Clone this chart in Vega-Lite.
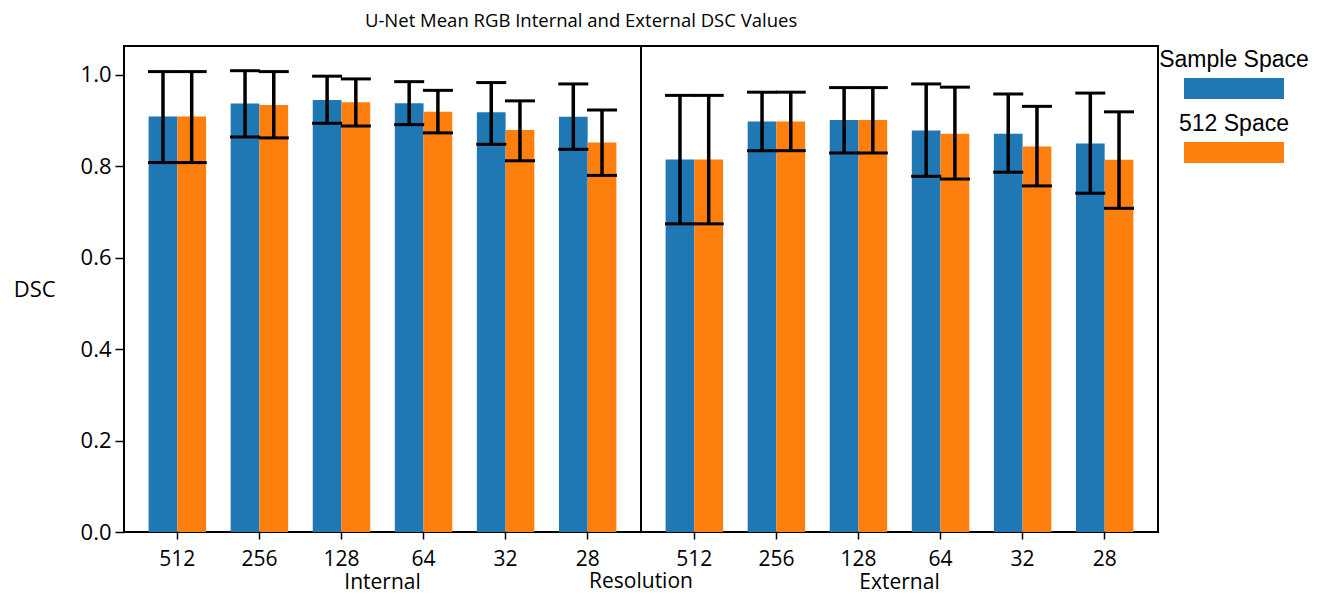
{
  "$schema": "https://vega.github.io/schema/vega-lite/v6.json",
  "padding": {"left": 13, "top": 11, "right": 5, "bottom": 0},
  "spacing": 0,
  "config": {
    "font": "Open Sans",
    "view": {"stroke": "black", "strokeWidth": 2},
    "axis": {"grid": false, "domain": false, "tickColor": "black", "tickWidth": 1.5, "labelColor": "black", "titleColor": "black", "labelFont": "Open Sans", "titleFont": "Open Sans", "titleFontWeight": "normal"}
  },
  "datasets": {
    "dsc": [
      {"panel": "Internal", "res": "512", "series": "Sample Space", "mean": 0.909, "lo": 0.808, "hi": 1.007},
      {"panel": "Internal", "res": "512", "series": "512 Space", "mean": 0.909, "lo": 0.808, "hi": 1.007},
      {"panel": "Internal", "res": "256", "series": "Sample Space", "mean": 0.937, "lo": 0.864, "hi": 1.009},
      {"panel": "Internal", "res": "256", "series": "512 Space", "mean": 0.934, "lo": 0.862, "hi": 1.007},
      {"panel": "Internal", "res": "128", "series": "Sample Space", "mean": 0.945, "lo": 0.894, "hi": 0.997},
      {"panel": "Internal", "res": "128", "series": "512 Space", "mean": 0.940, "lo": 0.888, "hi": 0.991},
      {"panel": "Internal", "res": "64", "series": "Sample Space", "mean": 0.938, "lo": 0.891, "hi": 0.985},
      {"panel": "Internal", "res": "64", "series": "512 Space", "mean": 0.919, "lo": 0.873, "hi": 0.966},
      {"panel": "Internal", "res": "32", "series": "Sample Space", "mean": 0.918, "lo": 0.848, "hi": 0.983},
      {"panel": "Internal", "res": "32", "series": "512 Space", "mean": 0.879, "lo": 0.812, "hi": 0.943},
      {"panel": "Internal", "res": "28", "series": "Sample Space", "mean": 0.908, "lo": 0.837, "hi": 0.980},
      {"panel": "Internal", "res": "28", "series": "512 Space", "mean": 0.852, "lo": 0.780, "hi": 0.923},
      {"panel": "External", "res": "512", "series": "Sample Space", "mean": 0.815, "lo": 0.674, "hi": 0.955},
      {"panel": "External", "res": "512", "series": "512 Space", "mean": 0.815, "lo": 0.674, "hi": 0.955},
      {"panel": "External", "res": "256", "series": "Sample Space", "mean": 0.898, "lo": 0.834, "hi": 0.962},
      {"panel": "External", "res": "256", "series": "512 Space", "mean": 0.898, "lo": 0.834, "hi": 0.962},
      {"panel": "External", "res": "128", "series": "Sample Space", "mean": 0.901, "lo": 0.829, "hi": 0.972},
      {"panel": "External", "res": "128", "series": "512 Space", "mean": 0.901, "lo": 0.829, "hi": 0.972},
      {"panel": "External", "res": "64", "series": "Sample Space", "mean": 0.878, "lo": 0.778, "hi": 0.980},
      {"panel": "External", "res": "64", "series": "512 Space", "mean": 0.871, "lo": 0.772, "hi": 0.973},
      {"panel": "External", "res": "32", "series": "Sample Space", "mean": 0.871, "lo": 0.787, "hi": 0.958},
      {"panel": "External", "res": "32", "series": "512 Space", "mean": 0.843, "lo": 0.757, "hi": 0.931},
      {"panel": "External", "res": "28", "series": "Sample Space", "mean": 0.850, "lo": 0.741, "hi": 0.960},
      {"panel": "External", "res": "28", "series": "512 Space", "mean": 0.814, "lo": 0.708, "hi": 0.919}
    ],
    "legend": [
      {"series": "Sample Space"},
      {"series": "512 Space"}
    ]
  },
  "hconcat": [
    {
      "title": {"text": "U-Net Mean RGB Internal and External DSC Values", "fontSize": 18.5, "fontWeight": "normal", "font": "Open Sans", "color": "black", "anchor": "middle", "offset": 15, "dx": -5},
      "data": {"name": "dsc"},
      "bounds": "flush",
      "facet": {
        "column": {
          "field": "panel",
          "type": "nominal",
          "sort": ["Internal", "External"],
          "header": {
            "labelOrient": "bottom",
            "labelFontSize": 21,
            "labelFont": "Open Sans",
            "labelColor": "black",
            "labelPadding": 3,
            "title": "Resolution",
            "titleOrient": "bottom",
            "titleFontSize": 21,
            "titleFont": "Open Sans",
            "titleFontWeight": "normal",
            "titleColor": "black",
            "titlePadding": -32
          }
        }
      },
      "spacing": 0,
      "spec": {
        "width": 517,
        "height": 486,
        "encoding": {
          "x": {
            "field": "res", "type": "nominal",
            "sort": ["512", "256", "128", "64", "32", "28"],
            "scale": {"paddingInner": 0.3, "paddingOuter": 0.3},
            "axis": {"title": null, "labelAngle": 0, "labelFontSize": 21, "tickSize": 7, "labelPadding": 9}
          },
          "xOffset": {
            "field": "series", "type": "nominal",
            "sort": ["Sample Space", "512 Space"],
            "scale": {"paddingInner": 0, "paddingOuter": 0}
          }
        },
        "layer": [
          {
            "mark": {"type": "bar"},
            "encoding": {
              "y": {
                "field": "mean", "type": "quantitative",
                "scale": {"domain": [0, 1.063], "nice": false, "zero": true},
                "axis": {"title": "DSC", "titleAngle": 0, "titleAlign": "right", "titleBaseline": "middle", "titleFontSize": 22, "titlePadding": 25, "labelFontSize": 22, "tickSize": 9, "labelPadding": 4, "values": [0, 0.2, 0.4, 0.6, 0.8, 1.0], "format": ".1f"}
              },
              "color": {
                "field": "series", "type": "nominal",
                "scale": {"domain": ["Sample Space", "512 Space"], "range": ["#1f77b4", "#ff7f0e"]},
                "legend": null
              }
            }
          },
          {
            "mark": {"type": "rule", "color": "black", "strokeWidth": 3.5},
            "encoding": {
              "y": {"field": "lo", "type": "quantitative"},
              "y2": {"field": "hi"}
            }
          },
          {
            "mark": {"type": "tick", "orient": "horizontal", "color": "black", "thickness": 3, "size": 30, "opacity": 1},
            "encoding": {"y": {"field": "lo", "type": "quantitative"}}
          },
          {
            "mark": {"type": "tick", "orient": "horizontal", "color": "black", "thickness": 3, "size": 30, "opacity": 1},
            "encoding": {"y": {"field": "hi", "type": "quantitative"}}
          }
        ]
      }
    },
    {
      "width": 150,
      "height": 200,
      "view": {"stroke": null},
      "data": {"name": "legend"},
      "encoding": {
        "y": {
          "field": "series", "type": "nominal",
          "sort": ["Sample Space", "512 Space"],
          "scale": {"type": "point", "range": [42.5, 106.5], "padding": 0},
          "axis": null
        }
      },
      "layer": [
        {
          "mark": {"type": "point", "shape": "M-1,-0.21L1,-0.21L1,0.21L-1,0.21Z", "size": 10000, "filled": true, "opacity": 1, "strokeWidth": 0},
          "encoding": {
            "color": {"field": "series", "type": "nominal", "legend": null}
          }
        },
        {
          "mark": {"type": "text", "font": "Liberation Sans", "fontSize": 23, "color": "black", "dy": -29, "baseline": "middle", "align": "center"},
          "encoding": {"text": {"field": "series"}}
        }
      ]
    }
  ]
}
